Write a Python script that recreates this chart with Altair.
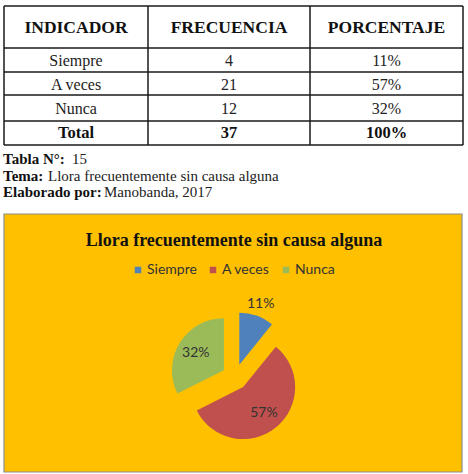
import altair as alt
import pandas as pd

# ---------------- data ----------------
columns = ["INDICADOR", "FRECUENCIA", "PORCENTAJE"]
indicators = ["Siempre", "A veces", "Nunca"]
frequencies = [4, 21, 12]
percentages = [11, 57, 32]
total_label = "Total"
total_freq = 37
total_pct = 100
slice_colors = ["#4F81BD", "#C0504D", "#9BBB59"]
chart_title = "Llora frecuentemente sin causa alguna"
caption_labels = ["Tabla N°:", "Tema:", "Elaborado por:"]
caption_values = ["15", "Llora frecuentemente sin causa alguna", "Manobanda, 2017"]

# ---------------- table ----------------
table_rows = [columns]
for ind, f, p in zip(indicators, frequencies, percentages):
    table_rows.append([ind, str(f), f"{p}%"])
table_rows.append([total_label, str(total_freq), f"{total_pct}%"])

cells = []
for ri, row in enumerate(table_rows):
    kind = "head" if ri == 0 else ("total" if ri == len(table_rows) - 1 else "body")
    for ci, txt in enumerate(row):
        cells.append({"r": ri, "c": ci, "txt": txt, "kind": kind})
cells_df = pd.DataFrame(cells)

n_cols = len(columns)
n_rows = len(table_rows)
X_SCALE = alt.Scale(domain=list(range(n_cols + 1)), range=[4, 148, 310, 463], nice=False, zero=False)
Y_SCALE = alt.Scale(domain=list(range(n_rows + 1)), range=[6, 48, 72, 95, 121, 145], nice=False, zero=False)

SERIF = "Liberation Serif"
SANS = "Lato"

base_cells = alt.Chart(cells_df).transform_calculate(
    xm="datum.c + 0.5", ym="datum.r + 0.5"
)
enc = dict(
    x=alt.X("xm:Q", scale=X_SCALE, axis=None),
    y=alt.Y("ym:Q", scale=Y_SCALE, axis=None),
    text="txt:N",
)
head_text = base_cells.transform_filter("datum.kind == 'head'").mark_text(
    font=SERIF, fontSize=17.5, fontWeight="bold", color="#111", baseline="middle", dy=1
).encode(**enc)
body_text = base_cells.transform_filter("datum.kind == 'body'").mark_text(
    font=SERIF, fontSize=16, color="#222", baseline="middle", dy=1
).encode(**enc)
total_text = base_cells.transform_filter("datum.kind == 'total'").mark_text(
    font=SERIF, fontSize=16.5, fontWeight="bold", color="#111", baseline="middle", dy=0
).encode(**enc)

vlines = alt.Chart(pd.DataFrame({"c": list(range(n_cols + 1)), "r0": 0, "r1": n_rows})).mark_rule(
    color="#1a1a1a", strokeWidth=1.5
).encode(
    x=alt.X("c:Q", scale=X_SCALE, axis=None),
    y=alt.Y("r0:Q", scale=Y_SCALE, axis=None),
    y2="r1:Q",
)
hlines = alt.Chart(pd.DataFrame({"r": list(range(n_rows + 1)), "c0": 0, "c1": n_cols})).mark_rule(
    color="#1a1a1a", strokeWidth=1.5
).encode(
    y=alt.Y("r:Q", scale=Y_SCALE, axis=None),
    x=alt.X("c0:Q", scale=X_SCALE, axis=None),
    x2="c1:Q",
)

# ---------------- caption ----------------
caption_layers = []
cap_y = [159, 175.5, 192]
cap_val_x = [72, 48, 104]
for lab, val, yy, vx in zip(caption_labels, caption_values, cap_y, cap_val_x):
    d = pd.DataFrame({"lab": [lab], "val": [val]})
    caption_layers.append(
        alt.Chart(d).mark_text(font=SERIF, fontSize=15, fontWeight="bold", align="left", color="#111").encode(
            text="lab:N", x=alt.value(3), y=alt.value(yy)
        )
    )
    caption_layers.append(
        alt.Chart(d).mark_text(font=SERIF, fontSize=15, align="left", color="#222").encode(
            text="val:N", x=alt.value(vx), y=alt.value(yy)
        )
    )

# ---------------- pie chart ----------------
bg = alt.Chart(pd.DataFrame({"t": [chart_title]})).mark_rect(
    fill="#FFC000", stroke="#8c8c8c", strokeWidth=1.2
).encode(x=alt.value(4), x2=alt.value(462), y=alt.value(214), y2=alt.value(472))

title = alt.Chart(pd.DataFrame({"t": [chart_title]})).mark_text(
    font=SERIF, fontSize=18, fontWeight="bold", color="#111", align="center"
).encode(text="t:N", x=alt.value(234), y=alt.value(241))

pie_df = pd.DataFrame({
    "cat": indicators,
    "freq": frequencies,
    "pct": percentages,
    "order": list(range(len(indicators))),
})

CX, CY, EXPLODE, R = 235, 377, 13, 52
pie_base = alt.Chart(pie_df).transform_window(
    cum="sum(freq)", sort=[alt.SortField("order")]
).transform_joinaggregate(
    total="sum(freq)"
).transform_calculate(
    t0="2*PI*(datum.cum - datum.freq)/datum.total"
).transform_calculate(
    t1="2*PI*datum.cum/datum.total"
).transform_calculate(
    mid="(datum.t0 + datum.t1)/2"
).transform_calculate(
    cx=f"{CX} + {EXPLODE}*sin(datum.mid)",
    cy=f"{CY} - {EXPLODE}*cos(datum.mid)",
    lr="datum.cat == 'Siempre' ? 77 : 46",
    lbl="datum.pct + '%'",
)

arcs = pie_base.mark_arc(radius=R).encode(
    theta=alt.Theta("t0:Q", scale=None),
    theta2=alt.Theta2("t1:Q"),
    x=alt.X("cx:Q", scale=None, axis=None),
    y=alt.Y("cy:Q", scale=None, axis=None),
    color=alt.Color(
        "cat:N",
        scale=alt.Scale(domain=indicators, range=slice_colors),
        legend=alt.Legend(
            orient="none", legendX=131, legendY=263, direction="horizontal", title=None,
            symbolType="square", symbolSize=42, symbolStrokeWidth=0,
            labelFont=SANS, labelFontSize=14, labelColor="#333", labelOffset=2,
            columnPadding=9, padding=0,
        ),
    ),
)

labels = pie_base.mark_text(font=SANS, fontSize=14, color="#333", align="center", baseline="middle").encode(
    x=alt.value(CX),
    y=alt.value(CY),
    theta=alt.Theta("mid:Q", scale=None),
    radius=alt.Radius("lr:Q", scale=None),
    text="lbl:N",
)

chart = alt.layer(
    vlines, hlines, head_text, body_text, total_text,
    *caption_layers,
    bg, title, arcs, labels,
).resolve_scale(
    x="independent", y="independent"
).properties(
    width=468, height=474, autosize=alt.AutoSizeParams(type="none"), padding=0, background="white"
).configure_view(strokeWidth=0)

chart.save("out.html", embed_options={"renderer": "svg", "actions": False})
